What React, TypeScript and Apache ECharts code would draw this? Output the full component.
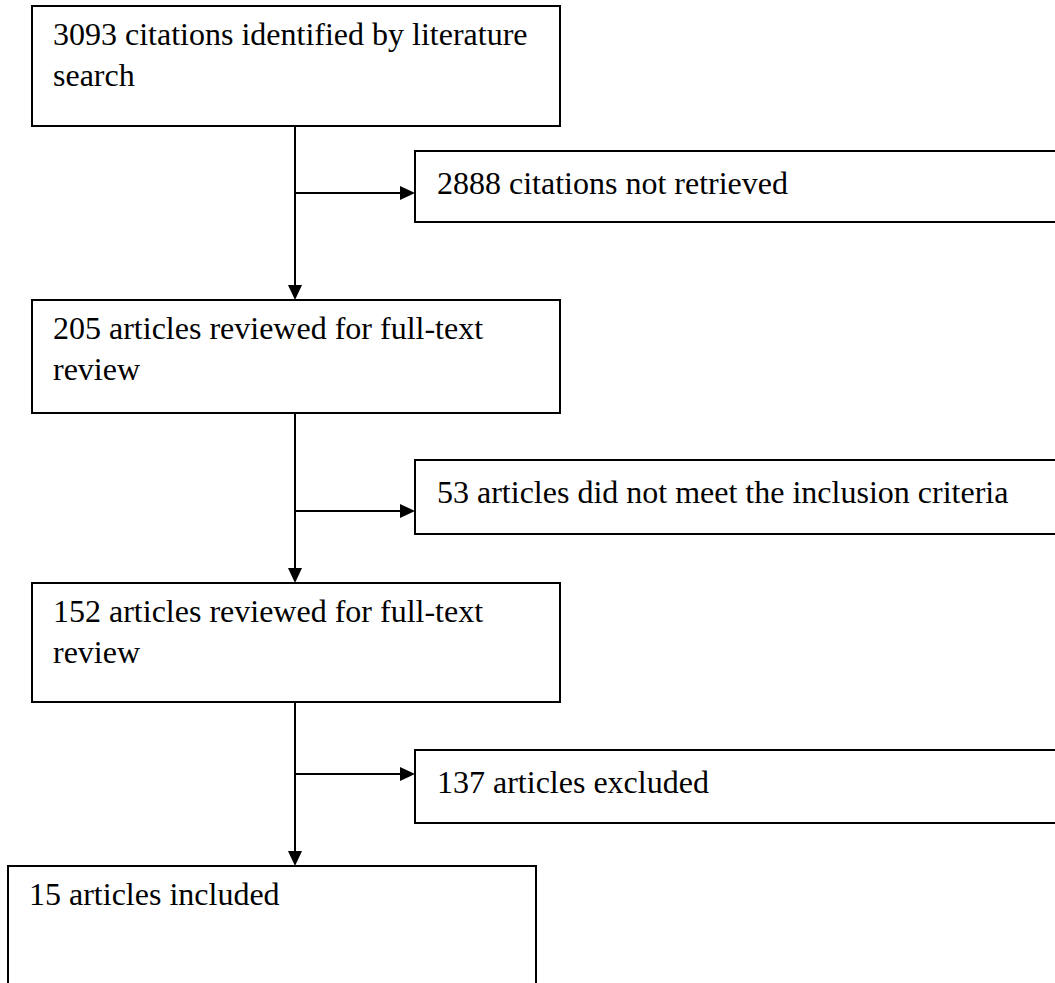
import React, { useEffect, useRef } from "react";
import * as echarts from "echarts";

// Flow steps (main column) and exclusions (side boxes)
const mainSteps: string[][] = [
  ["3093 citations identified by literature", "search"],
  ["205 articles reviewed for full-text", "review"],
  ["152 articles reviewed for full-text", "review"],
  ["15 articles included"],
];
const exclusions: string[] = [
  "2888 citations not retrieved",
  "53 articles did not meet the inclusion criteria",
  "137 articles excluded",
];

// Layout (pixels)
const mainBoxes = [
  { x: 32, y: 6, w: 528, h: 120 },
  { x: 32, y: 300, w: 528, h: 113 },
  { x: 32, y: 583, w: 528, h: 119 },
  { x: 8, y: 866, w: 528, h: 140 },
];
const sideBoxes = [
  { x: 415, y: 151, w: 660, h: 71 },
  { x: 415, y: 460, w: 660, h: 74 },
  { x: 415, y: 750, w: 660, h: 73 },
];
const branchY = [193, 511, 774];
const spineX = 295;
const FONT = "32px 'Liberation Serif', 'Times New Roman', serif";
const LINE_H = 41;

function buildGraphics() {
  const els: any[] = [];
  const stroke = "#000";
  mainBoxes.forEach((b, i) => {
    els.push({
      type: "rect",
      shape: { x: b.x, y: b.y, width: b.w, height: b.h },
      style: { fill: "#fff", stroke, lineWidth: 2 },
    });
    mainSteps[i].forEach((line, j) => {
      els.push({
        type: "text",
        x: b.x + 21,
        y: b.y + 28 + j * LINE_H,
        style: { text: line, font: FONT, fill: "#000", textAlign: "left", textVerticalAlign: "middle" },
      });
    });
  });
  sideBoxes.forEach((b, i) => {
    els.push({
      type: "rect",
      shape: { x: b.x, y: b.y, width: b.w, height: b.h },
      style: { fill: "#fff", stroke, lineWidth: 2 },
    });
    els.push({
      type: "text",
      x: b.x + 22,
      y: b.y + 32,
      style: { text: exclusions[i], font: FONT, fill: "#000", textAlign: "left", textVerticalAlign: "middle" },
    });
  });
  // spine segments with down arrows
  for (let i = 0; i < mainBoxes.length - 1; i++) {
    const top = mainBoxes[i].y + mainBoxes[i].h;
    const bottom = mainBoxes[i + 1].y;
    els.push({
      type: "line",
      shape: { x1: spineX, y1: top, x2: spineX, y2: bottom - 12 },
      style: { stroke, lineWidth: 2 },
    });
    els.push({
      type: "polygon",
      shape: { points: [[spineX - 7, bottom - 15], [spineX + 7, bottom - 15], [spineX, bottom]] },
      style: { fill: stroke },
    });
    // branch arrow
    const by = branchY[i];
    const sx = sideBoxes[i].x;
    els.push({
      type: "line",
      shape: { x1: spineX, y1: by, x2: sx - 12, y2: by },
      style: { stroke, lineWidth: 2 },
    });
    els.push({
      type: "polygon",
      shape: { points: [[sx - 15, by - 7], [sx - 15, by + 7], [sx, by]] },
      style: { fill: stroke },
    });
  }
  return els;
}

export default function App() {
  const ref = useRef<HTMLDivElement>(null);
  useEffect(() => {
    if (!ref.current) return;
    const chart = echarts.init(ref.current, null, { renderer: "svg" });
    chart.setOption({
      animation: false,
      backgroundColor: "#fff",
      graphic: { elements: buildGraphics() },
    });
    return () => chart.dispose();
  }, []);
  return (
    <div
      ref={ref}
      style={{ position: "fixed", left: 0, top: 0, width: 1055, height: 983, background: "#fff" }}
    />
  );
}
